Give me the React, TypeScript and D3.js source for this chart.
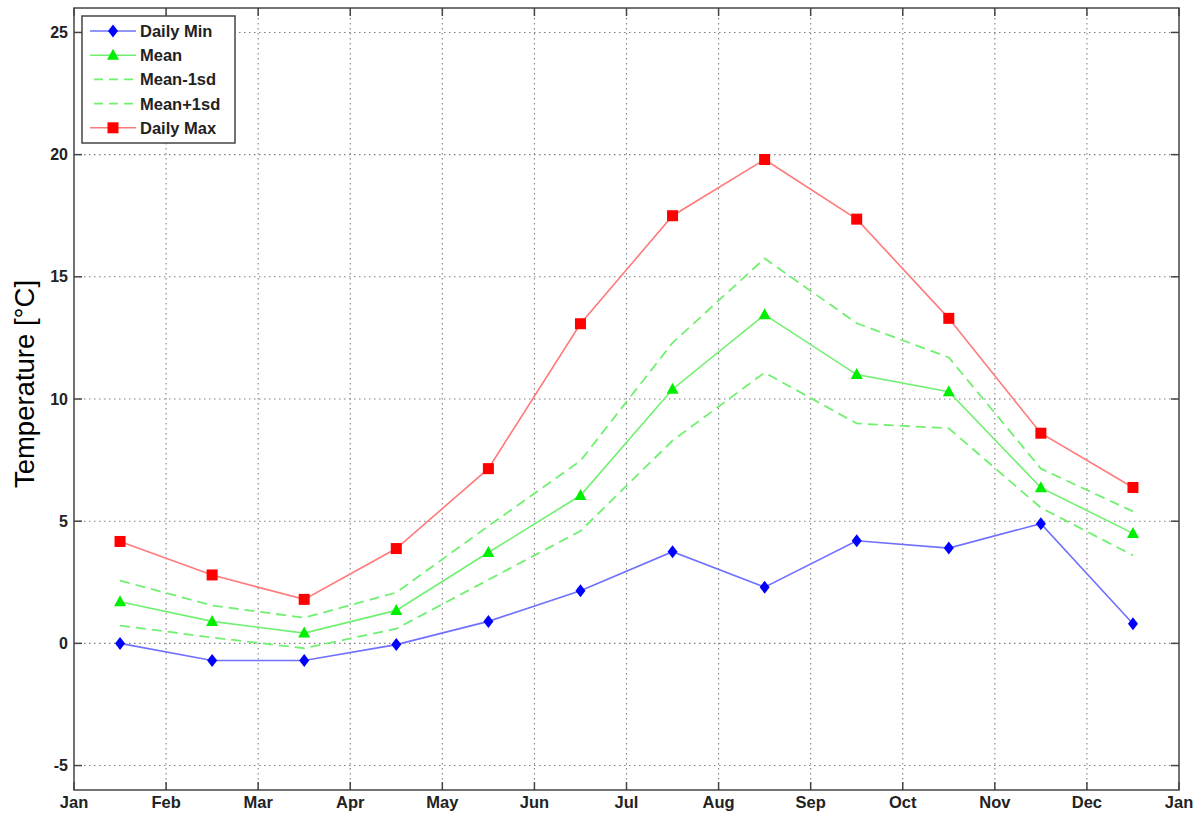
import React from 'react';
import * as d3 from 'd3';

const monthTicks = ['Jan', 'Feb', 'Mar', 'Apr', 'May', 'Jun', 'Jul', 'Aug', 'Sep', 'Oct', 'Nov', 'Dec', 'Jan'];
const yTicks = [-5, 0, 5, 10, 15, 20, 25];

const dailyMin = [0.0, -0.7, -0.7, -0.05, 0.9, 2.15, 3.75, 2.3, 4.2, 3.9, 4.9, 0.8];
const mean = [1.7, 0.9, 0.42, 1.35, 3.72, 6.05, 10.4, 13.45, 11.0, 10.3, 6.37, 4.5];
const meanMinus = [0.73, 0.24, -0.2, 0.6, 2.6, 4.6, 8.3, 11.08, 9.0, 8.8, 5.55, 3.6];
const meanPlus = [2.57, 1.55, 1.05, 2.08, 4.8, 7.47, 12.3, 15.75, 13.1, 11.7, 7.15, 5.4];
const dailyMax = [4.17, 2.8, 1.8, 3.88, 7.15, 13.08, 17.5, 19.8, 17.36, 13.3, 8.6, 6.38];

const W = 1198;
const H = 816;
const left = 74, right = 1179, top = 8, bottom = 790;
const font = 'Liberation Sans, Arial, Helvetica, sans-serif';

const x = d3.scaleLinear().domain([0, 12]).range([left, right]);
const y = d3.scaleLinear().domain([-6, 26]).range([bottom, top]);

const line = d3.line<number>()
  .x((d, i) => x(i + 0.5))
  .y(d => y(d));

const diamond = (cx: number, cy: number) =>
  `M${cx},${cy - 6.5}L${cx + 5},${cy}L${cx},${cy + 6.5}L${cx - 5},${cy}Z`;
const triangle = (cx: number, cy: number) =>
  `M${cx},${cy - 6.5}L${cx + 6},${cy + 4.5}L${cx - 6},${cy + 4.5}Z`;

const BLUE_LINE = '#7070ff';
const RED_LINE = '#ff7a7a';
const GREEN_LINE = '#70f070';

const legendItems = [
  { label: 'Daily Min', color: BLUE_LINE, dash: null, marker: 'diamond', mcolor: '#0000ff' },
  { label: 'Mean', color: GREEN_LINE, dash: null, marker: 'triangle', mcolor: '#00ee00' },
  { label: 'Mean-1sd', color: GREEN_LINE, dash: '9,6', marker: null, mcolor: '' },
  { label: 'Mean+1sd', color: GREEN_LINE, dash: '9,6', marker: null, mcolor: '' },
  { label: 'Daily Max', color: RED_LINE, dash: null, marker: 'square', mcolor: '#ff0000' },
];

function Marker({ type, cx, cy, color }: { type: string; cx: number; cy: number; color: string }) {
  if (type === 'diamond') return <path d={diamond(cx, cy)} fill={color} />;
  if (type === 'triangle') return <path d={triangle(cx, cy)} fill={color} />;
  if (type === 'square') return <rect x={cx - 5.5} y={cy - 5.5} width={11} height={11} fill={color} />;
  return null;
}

export default function App() {
  const tickLen = 8;
  return (
    <svg width={W} height={H} style={{ position: 'absolute', left: 0, top: 0, background: '#fff' }}>
      {/* grid */}
      <g stroke="#808080" strokeWidth={1.1} strokeDasharray="1.5,3.5">
        {monthTicks.slice(1, 12).map((_, i) => (
          <line key={'gx' + i} x1={x(i + 1)} x2={x(i + 1)} y1={top} y2={bottom} />
        ))}
        {yTicks.map(t => (
          <line key={'gy' + t} x1={left} x2={right} y1={y(t)} y2={y(t)} />
        ))}
      </g>

      {/* series */}
      <path d={line(meanMinus) || ''} fill="none" stroke={GREEN_LINE} strokeWidth={1.8} strokeDasharray="10,6" />
      <path d={line(meanPlus) || ''} fill="none" stroke={GREEN_LINE} strokeWidth={1.8} strokeDasharray="10,6" />
      <path d={line(dailyMin) || ''} fill="none" stroke={BLUE_LINE} strokeWidth={1.6} />
      <path d={line(mean) || ''} fill="none" stroke={GREEN_LINE} strokeWidth={1.6} />
      <path d={line(dailyMax) || ''} fill="none" stroke={RED_LINE} strokeWidth={1.6} />
      {dailyMin.map((v, i) => <Marker key={'mn' + i} type="diamond" cx={x(i + 0.5)} cy={y(v)} color="#0000ff" />)}
      {mean.map((v, i) => <Marker key={'me' + i} type="triangle" cx={x(i + 0.5)} cy={y(v)} color="#00ee00" />)}
      {dailyMax.map((v, i) => <Marker key={'mx' + i} type="square" cx={x(i + 0.5)} cy={y(v)} color="#ff0000" />)}

      {/* axes box + ticks */}
      <g stroke="#444" strokeWidth={1.5}>
        <rect x={left} y={top} width={right - left} height={bottom - top} fill="none" />
        {monthTicks.map((_, i) => (
          <g key={'tx' + i}>
            <line x1={x(i)} x2={x(i)} y1={bottom} y2={bottom - tickLen} />
            <line x1={x(i)} x2={x(i)} y1={top} y2={top + tickLen} />
          </g>
        ))}
        {yTicks.map(t => (
          <g key={'ty' + t}>
            <line x1={left} x2={left + tickLen} y1={y(t)} y2={y(t)} />
            <line x1={right} x2={right - tickLen} y1={y(t)} y2={y(t)} />
          </g>
        ))}
      </g>

      {/* tick labels */}
      <g fontFamily={font} fontWeight="bold" fill="#222">
        {monthTicks.map((m, i) => (
          <text key={'lx' + i} x={x(i)} y={bottom + 18} textAnchor="middle" fontSize={16.5}>{m}</text>
        ))}
        {yTicks.map(t => (
          <text key={'ly' + t} x={left - 6} y={y(t)} dy="0.35em" textAnchor="end" fontSize={16}>{t}</text>
        ))}
      </g>

      <text
        transform={`translate(34,384) rotate(-90)`}
        textAnchor="middle"
        fontFamily={font}
        fontSize={27.5}
        fill="#000"
      >
        Temperature [°C]
      </text>

      {/* legend */}
      <g>
        <rect x={82} y={16} width={153} height={127} fill="#fff" stroke="#444" strokeWidth={1.5} />
        {legendItems.map((it, i) => {
          const ly = 31 + i * 24.2;
          return (
            <g key={it.label}>
              <line x1={90} x2={136} y1={ly} y2={ly} stroke={it.color} strokeWidth={1.6}
                strokeDasharray={it.dash || undefined} strokeDashoffset={it.dash ? -4 : 0} />
              {it.marker && <Marker type={it.marker} cx={113} cy={ly} color={it.mcolor} />}
              <text x={140} y={ly} dy="0.36em" fontFamily={font} fontSize={16.5} fontWeight="bold" fill="#222">
                {it.label}
              </text>
            </g>
          );
        })}
      </g>
    </svg>
  );
}
